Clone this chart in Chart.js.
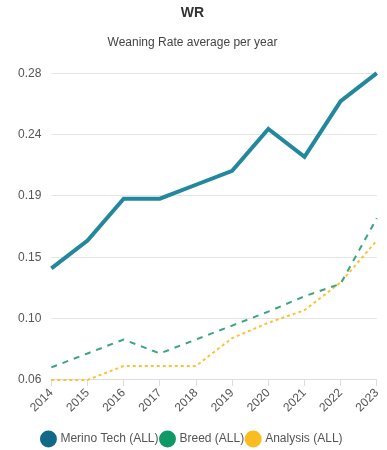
<!DOCTYPE html>
<html>
<head>
<meta charset="utf-8">
<script src="https://cdn.jsdelivr.net/npm/chart.js@4.4.0/dist/chart.umd.min.js"></script>
<style>
  html, body { margin: 0; padding: 0; background: #fff; }
  #wrap { width: 387px; height: 450px; }
</style>
</head>
<body>
<div id="wrap"><canvas id="chart"></canvas></div>
<script>
const years = ['2014', '2015', '2016', '2017', '2018', '2019', '2020', '2021', '2022', '2023'];
const merinoTech = [0.140, 0.160, 0.190, 0.190, 0.200, 0.210, 0.240, 0.220, 0.260, 0.280];
const breed = [0.069, 0.079, 0.089, 0.079, 0.089, 0.099, 0.109, 0.120, 0.129, 0.176];
const analysis = [0.060, 0.060, 0.070, 0.070, 0.070, 0.090, 0.101, 0.110, 0.130, 0.160];

Chart.defaults.font.family = '"Liberation Sans", Arial, sans-serif';
Chart.defaults.color = '#555';

const ctx = document.getElementById('chart').getContext('2d');
new Chart(ctx, {
  type: 'line',
  data: {
    labels: years,
    datasets: [
      {
        label: 'Merino Tech (ALL)',
        data: merinoTech,
        borderColor: '#23889c',
        backgroundColor: '#11698a',
        borderWidth: 4,
        pointRadius: 0,
        tension: 0,
        clip: false
      },
      {
        label: 'Breed (ALL)',
        data: breed,
        borderColor: '#3aa57f',
        backgroundColor: '#0e9966',
        borderWidth: 2,
        borderDash: [6, 6],
        pointRadius: 0,
        tension: 0,
        clip: false
      },
      {
        label: 'Analysis (ALL)',
        data: analysis,
        borderColor: '#fcc13a',
        backgroundColor: '#fbbc1f',
        borderWidth: 2,
        borderDash: [3, 3],
        pointRadius: 0,
        tension: 0,
        clip: false
      }
    ]
  },
  options: {
    responsive: true,
    maintainAspectRatio: false,
    animation: false,
    layout: { padding: { left: 8, right: 10, top: 0, bottom: -5 } },
    plugins: {
      title: {
        display: true,
        text: 'WR',
        color: '#333',
        font: { size: 14, weight: 'bold' },
        padding: { top: 5, bottom: 14 }
      },
      subtitle: {
        display: true,
        text: 'Weaning Rate average per year',
        color: '#444',
        font: { size: 12 },
        padding: { bottom: 23 }
      },
      legend: {
        position: 'bottom',
        labels: {
          usePointStyle: true,
          pointStyle: 'circle',
          boxWidth: 12,
          boxHeight: 12,
          padding: 3,
          color: '#555',
          font: { size: 12 },
          generateLabels(chart) {
            return chart.data.datasets.map((ds, i) => ({
              text: ds.label,
              fillStyle: ds.backgroundColor,
              strokeStyle: ds.backgroundColor,
              lineWidth: 0,
              pointStyle: 'circle',
              hidden: !chart.isDatasetVisible(i),
              datasetIndex: i,
              fontColor: '#555'
            }));
          }
        }
      },
      tooltip: { enabled: false }
    },
    scales: {
      x: {
        grid: { drawOnChartArea: false, tickLength: 6, color: '#ddd' },
        border: { color: '#ddd' },
        ticks: { maxRotation: 45, minRotation: 45, color: '#555', font: { size: 12 }, padding: 0 },
        afterFit(scale) { scale.height += 15; }
      },
      y: {
        min: 0.06,
        max: 0.28,
        grid: { color: '#e5e5e5', drawTicks: false },
        border: { display: false },
        ticks: {
          stepSize: 0.044,
          count: 6,
          padding: 10,
          color: '#555',
          font: { size: 12 },
          callback: v => Number(v).toFixed(2)
        }
      }
    }
  }
});
</script>
</body>
</html>
